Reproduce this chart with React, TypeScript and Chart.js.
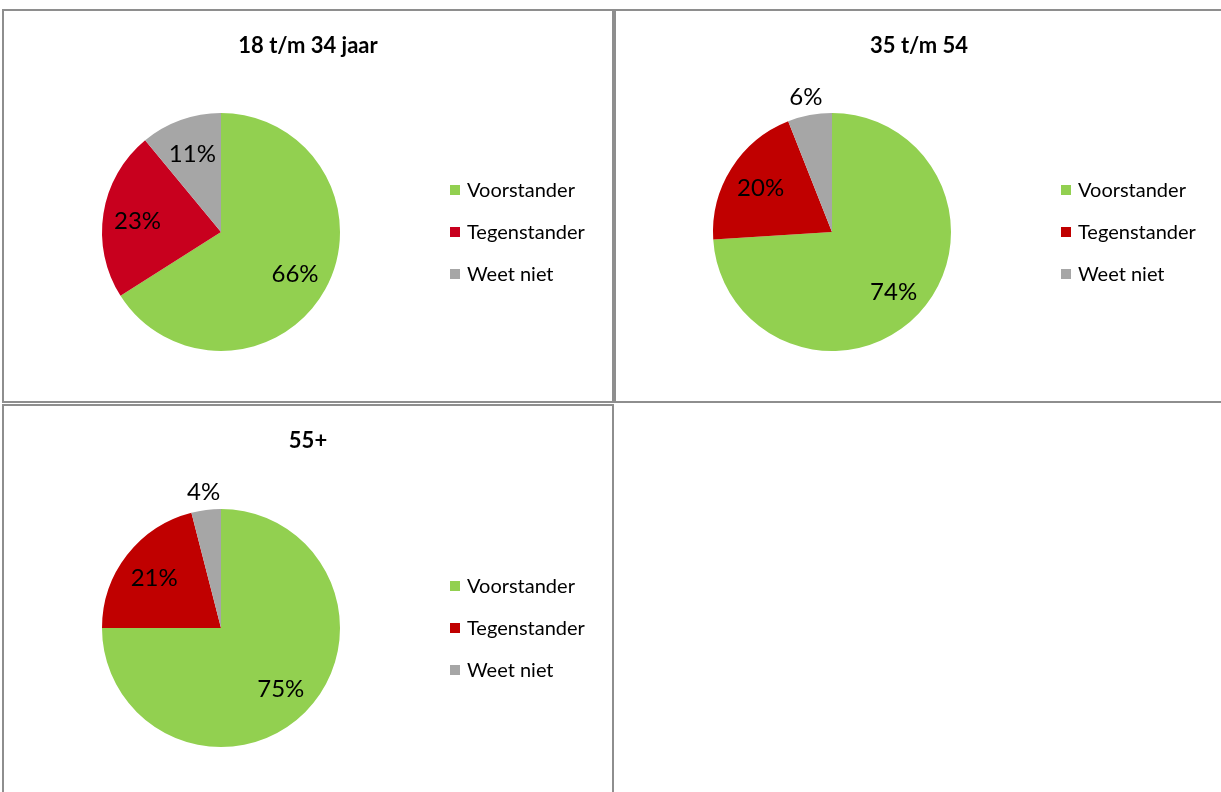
import React, { useEffect, useRef } from "react";
import { Chart, registerables } from "chart.js";

Chart.register(...registerables);

const categories = ["Voorstander", "Tegenstander", "Weet niet"];
const titles = ["18 t/m 34 jaar", "35 t/m 54", "55+"];
const values1 = [66, 23, 11];
const values2 = [74, 20, 6];
const values3 = [75, 21, 4];
const colors1 = ["#92D050", "#C8001E", "#A6A6A6"];
const colors2 = ["#92D050", "#C00000", "#A6A6A6"];
const colors3 = ["#92D050", "#C00000", "#A6A6A6"];

const FONT = "Lato, 'Open Sans', sans-serif";

type PanelProps = {
  left: number;
  top: number;
  width: number;
  height: number;
  title: string;
  values: number[];
  colors: string[];
  cx: number;
  cy: number;
  radius: number;
};

function PiePanel(p: PanelProps) {
  const ref = useRef<HTMLCanvasElement | null>(null);
  useEffect(() => {
    if (!ref.current) return;
    const w = p.width - 4;
    const h = p.height - 4;
    const lcx = p.cx - (p.left + 2);
    const lcy = p.cy - (p.top + 2);
    const R = p.radius;
    const overlay = {
      id: "overlay",
      afterDraw(chart: any) {
        const ctx = chart.ctx;
        ctx.save();
        // title
        ctx.fillStyle = "#000";
        ctx.font = `bold 22px ${FONT}`;
        ctx.textAlign = "center";
        ctx.textBaseline = "middle";
        ctx.fillText(p.title, w / 2, 35);
        // data labels
        const meta = chart.getDatasetMeta(0);
        const data = chart.data.datasets[0].data as number[];
        const total = data.reduce((a, b) => a + b, 0);
        ctx.font = `24px ${FONT}`;
        meta.data.forEach((arc: any, i: number) => {
          const pr = arc.getProps(["startAngle", "endAngle", "x", "y", "outerRadius"], true);
          const mid = (pr.startAngle + pr.endAngle) / 2;
          const pct = (data[i] / total) * 100;
          const rr = pct < 8 ? pr.outerRadius * 1.17 : pr.outerRadius * 0.71;
          const x = pr.x + Math.cos(mid) * rr;
          const y = pr.y + Math.sin(mid) * rr;
          ctx.fillStyle = "#000";
          ctx.fillText(`${Math.round(pct)}%`, x, y + 2);
        });
        // legend
        const lx = lcx + 229;
        ctx.font = `20px ${FONT}`;
        ctx.textAlign = "left";
        chart.data.labels.forEach((lab: string, i: number) => {
          const y = lcy + (i - 1) * 42;
          ctx.fillStyle = (chart.data.datasets[0].backgroundColor as string[])[i];
          ctx.fillRect(lx, y - 5, 10, 10);
          ctx.fillStyle = "#000";
          ctx.fillText(lab, lx + 17, y + 1);
        });
        ctx.restore();
      },
    };
    const chart = new Chart(ref.current, {
      type: "pie",
      data: {
        labels: categories,
        datasets: [
          {
            data: p.values,
            backgroundColor: p.colors,
            borderWidth: 0,
          },
        ],
      },
      options: {
        animation: false,
        responsive: false,
        maintainAspectRatio: false,
        layout: {
          padding: {
            left: lcx - R,
            top: lcy - R,
            right: w - (lcx + R),
            bottom: h - (lcy + R),
          },
        },
        plugins: {
          legend: { display: false },
          title: { display: false },
          tooltip: { enabled: false },
        },
      },
      plugins: [overlay],
    });
    return () => chart.destroy();
  }, []);
  return (
    <div
      style={{
        position: "absolute",
        left: p.left,
        top: p.top,
        width: p.width - 4,
        height: p.height - 4,
        border: "2px solid #8e8e8e",
        background: "#fff",
      }}
    >
      <canvas
        ref={ref}
        width={p.width - 4}
        height={p.height - 4}
        style={{ display: "block", width: p.width - 4, height: p.height - 4 }}
      />
    </div>
  );
}

export default function App() {
  return (
    <div
      style={{
        position: "fixed",
        left: 0,
        top: 0,
        width: 1221,
        height: 792,
        background: "#fff",
        overflow: "hidden",
      }}
    >
      <PiePanel left={2} top={9} width={612} height={394} title={titles[0]} values={values1} colors={colors1} cx={221} cy={232} radius={119} />
      <PiePanel left={614} top={9} width={610} height={394} title={titles[1]} values={values2} colors={colors2} cx={832} cy={232} radius={119} />
      <PiePanel left={2} top={404} width={612} height={394} title={titles[2]} values={values3} colors={colors3} cx={221} cy={628} radius={119} />
    </div>
  );
}
